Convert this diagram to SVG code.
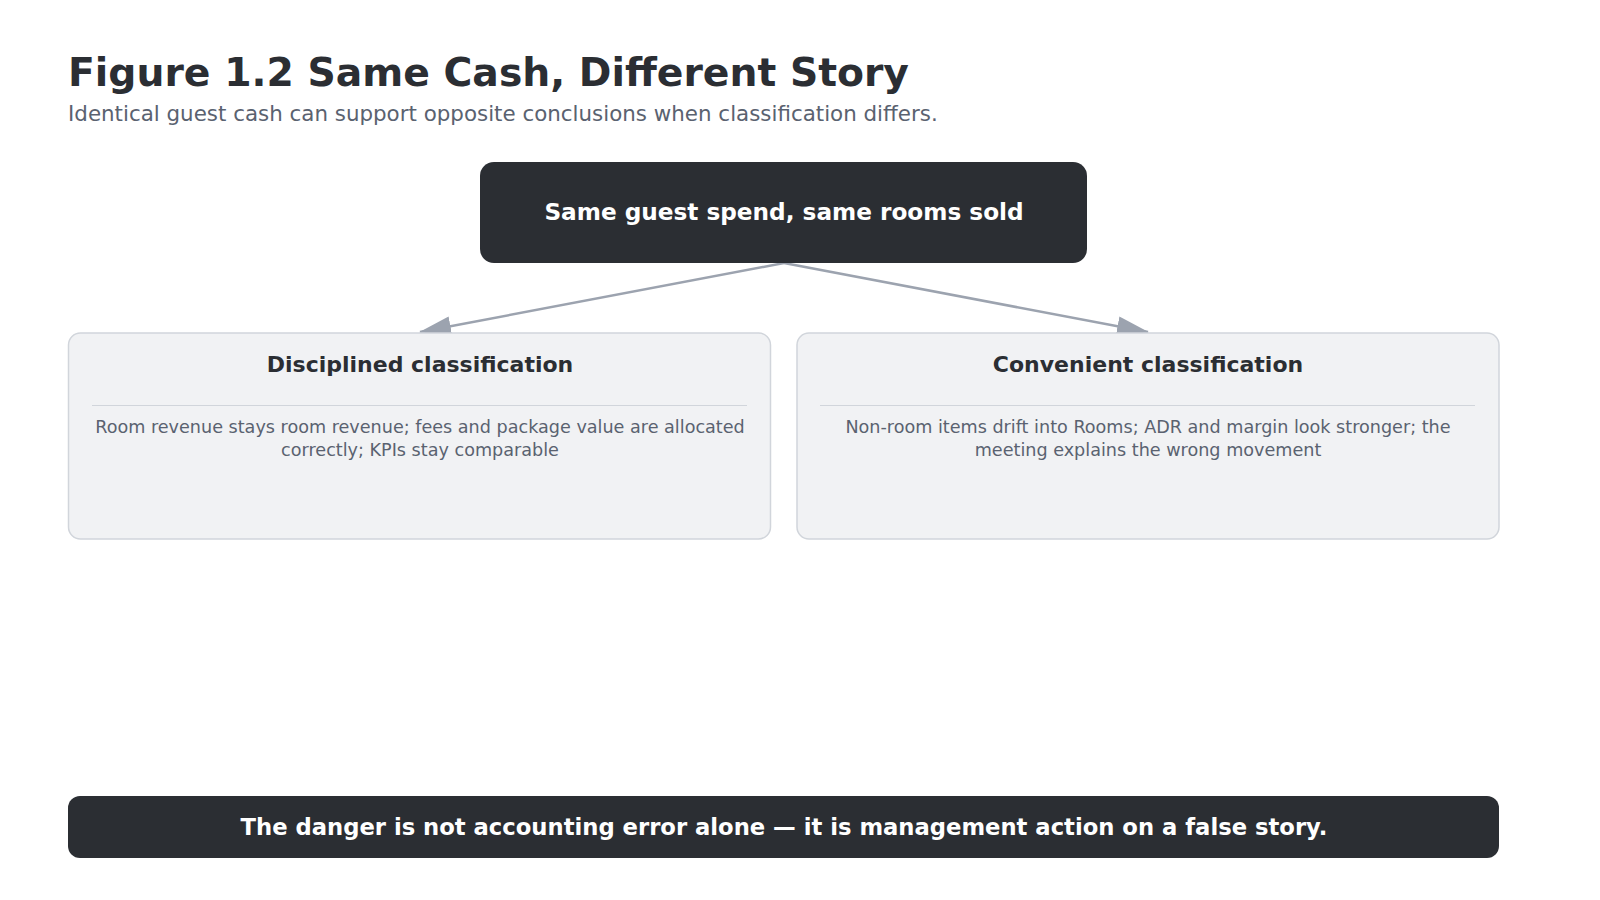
<svg xmlns="http://www.w3.org/2000/svg" width="1600" height="900" viewBox="0 0 1600 900">
<style>
text{font-family:"DejaVu Sans",sans-serif}
.dark{fill:#2b2e33}
.card{fill:#f1f2f4;stroke:#d1d5db;stroke-width:1.5}
.ct{font-size:22px;font-weight:bold;fill:#2b2e33;text-anchor:middle}
.cb{font-size:17.6px;fill:#5a6270;text-anchor:middle}
.wt{font-weight:bold;fill:#fff;text-anchor:middle}
.conn{stroke:#9ca3af;stroke-width:2.5;fill:none}
</style>
<defs>
<marker id="ah2" markerWidth="32" markerHeight="20" refX="31" refY="10" orient="auto" markerUnits="userSpaceOnUse" viewBox="0 0 32 20"><path d="M0,0L32,10L0,20z" fill="#9ca3af"/></marker>
</defs>
<rect width="1600" height="900" fill="#fff"/>
<text x="68" y="86" font-size="39.3" font-weight="bold" fill="#2b2e33">Figure 1.2 Same Cash, Different Story</text>
<text x="68" y="121" font-size="21.4" fill="#5a6270">Identical guest cash can support opposite conclusions when classification differs.</text>
<g id="connectors">
<line class="conn" x1="784" y1="263" x2="420" y2="332" marker-end="url(#ah2)"/>
<line class="conn" x1="784" y1="263" x2="1148" y2="332" marker-end="url(#ah2)"/>
</g>
<g id="top">
<rect class="dark" x="480" y="162" width="607" height="101" rx="14"/>
<text class="wt" x="784" y="220" font-size="23.2">Same guest spend, same rooms sold</text>
</g>
<g id="left">
<rect class="card" x="68.5" y="333" width="702" height="206" rx="12"/>
<text class="ct" x="420" y="372">Disciplined classification</text>
<line x1="92" y1="405.5" x2="747" y2="405.5" stroke="#d1d5db"/>
<text class="cb" x="420" y="433">Room revenue stays room revenue; fees and package value are allocated</text>
<text class="cb" x="420" y="456">correctly; KPIs stay comparable</text>
</g>
<g id="right">
<rect class="card" x="797" y="333" width="702" height="206" rx="12"/>
<text class="ct" x="1148" y="372">Convenient classification</text>
<line x1="820" y1="405.5" x2="1475" y2="405.5" stroke="#d1d5db"/>
<text class="cb" x="1148" y="433">Non-room items drift into Rooms; ADR and margin look stronger; the</text>
<text class="cb" x="1148" y="456">meeting explains the wrong movement</text>
</g>
<g id="bottom">
<rect class="dark" x="68" y="796" width="1431" height="62" rx="12"/>
<text class="wt" x="784" y="835" font-size="22.7">The danger is not accounting error alone — it is management action on a false story.</text>
</g>
</svg>
